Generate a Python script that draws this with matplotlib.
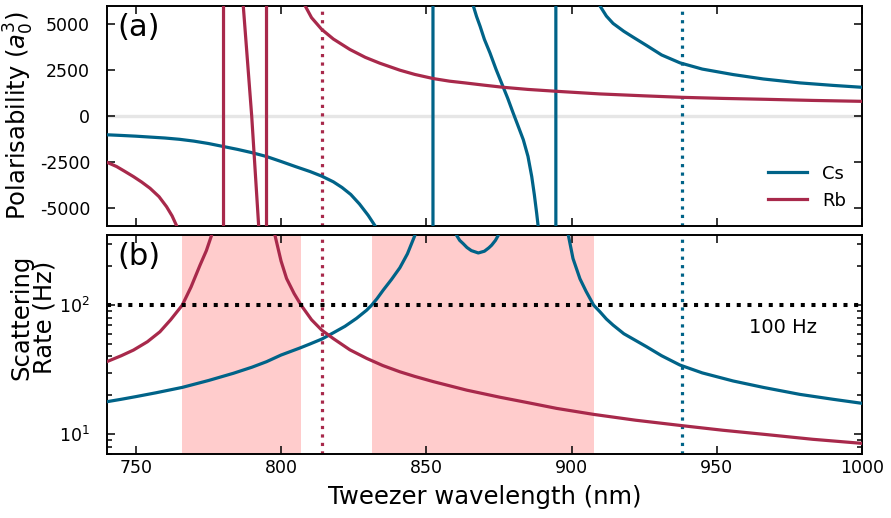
import matplotlib
matplotlib.use("Agg")
import matplotlib.pyplot as plt
from matplotlib.ticker import LogLocator, NullFormatter, FixedLocator

# --- colours -------------------------------------------------------------
cs_color = "#006388"
rb_color = "#a8294b"
shade_color = "#ffcccc"

# --- ground-state polarisability (a0^3) vs wavelength (nm) ---------------
# +/-1e6 entries mark the D-line resonances, where the curve diverges
cs_pol_wl = [740, 745, 750, 755, 760, 765, 770, 775, 780, 785,
             790, 795, 800, 805, 810, 814, 818, 821, 824, 827,
             830, 832.4,
             852.3, 852.3,
             866.2, 867.3, 868.5, 870.0, 871.9, 874.0, 876.5, 878.0, 879.9, 881.5,
             883.4, 885.0, 886.3, 887.2, 888.0, 888.5,
             894.6, 894.6,
             909.8, 912.0, 914.3, 918.0, 921.2, 925.8, 931.0, 937.3, 945.0, 955.6,
             966.0, 978.6, 990.0, 1000]
cs_pol = [-1024, -1060, -1100, -1150, -1200, -1270, -1370, -1500, -1660, -1820,
          -2000, -2210, -2480, -2760, -3030, -3280, -3590, -3900, -4280, -4800,
          -5420, -6000,
          -1e6, 1e6,
          6000, 5430, 4905, 4180, 3449, 2550, 1566, 980, 164, -500,
          -1297, -2200, -3306, -4300, -5310, -6005,
          -1e6, 1e6,
          6000, 5450, 5050, 4620, 4300, 3850, 3330, 2901, 2560, 2261,
          2020, 1806, 1670, 1566]

rb_pol_wl = [740, 743.4, 746, 749.2, 752, 754.9, 758, 760.6, 762.5, 764.1,
             780.2, 780.2,
             787.0, 789.9, 792.3,
             795.0, 795.0,
             808.2, 810.5, 814.0, 818.0, 823.7, 829.0, 834.0, 840.9, 846.0, 852.4,
             858.0, 863.3, 870.0, 876.5, 885.0, 894.9, 909.8, 925.0, 938.2, 952.0,
             967.1, 983.0, 1000]
rb_pol = [-2518, -2757, -3000, -3306, -3600, -3941, -4400, -4949, -5450, -6005,
          -1e6, 1e6,
          6000, 0, -6000,
          -1e6, 1e6,
          6038, 5364, 4724, 4200, 3629, 3200, 2880, 2500, 2270, 2042,
          1900, 1806, 1680, 1566, 1450, 1347, 1204, 1100, 1018, 960,
          910, 850, 800]

# --- photon scattering rate (Hz) vs wavelength (nm) -----------------------
cs_scat_wl = [740, 745, 750, 757, 766, 775, 783.6, 790, 795, 800,
              806.5, 810, 814, 818, 822, 826, 829.5, 831.2, 833, 835.2,
              838, 840.9, 843.5, 846.1,
              852.3, 853.0, 856.5,
              860.4, 861.5, 862.7, 864.0, 865.5, 867.9, 870.0, 871.5, 872.5, 873.8,
              874.8, 878.0, 885.0,
              894.6, 896.0,
              898.9, 900.5, 902.9, 905.0, 907.6, 909.8, 912.0, 914.3, 918.0, 925.8,
              931.0, 937.3, 945.0, 955.6, 966.0, 978.6, 990.0, 1000]
cs_scat = [17.8, 18.6, 19.5, 20.9, 23.0, 26.0, 29.6, 33.0, 36.4, 41.0,
           46.5, 50.0, 54.5, 61.0, 68.5, 79.0, 91.5, 100, 112, 131,
           158, 195, 250, 349,
           1e5, 1e4, 1000,
           349, 318, 300, 280, 265, 254, 262, 278, 292, 318,
           349, 1000, 1e4,
           1e5, 1500,
           349, 230, 160, 128, 100, 88.7, 78.0, 70.0, 60.0, 47.6,
           40.5, 34.3, 29.8, 25.8, 23.0, 20.3, 18.6, 17.3]

rb_scat_wl = [740, 745, 749.2, 754, 758.3, 762, 766, 769, 772.1, 774.3,
              776.1,
              780.2, 787.5, 795.0,
              797.9, 800, 801.9, 804.5, 806.9, 810.5, 814, 818, 823.7, 829.5,
              835, 840.9, 846, 852.4, 863.9, 875.3, 885, 894.9, 907.6, 922,
              938.2, 952, 967.1, 983, 1000]
rb_scat = [36.4, 40.5, 44.8, 52.0, 62.1, 77.0, 100, 138, 204, 265,
           349,
           1e5, 2000, 1e5,
           349, 220, 161, 123, 100, 77.0, 64.0, 55.0, 45.0, 38.6,
           34.0, 30.4, 28.0, 25.5, 21.9, 19.3, 17.5, 15.8, 14.2, 12.8,
           11.6, 10.7, 9.9, 9.1, 8.46]

# wavelength windows where either species scatters above 100 Hz
high_scatter_bands = [(766.0, 806.9), (831.2, 907.6)]
scatter_limit = 100

# tweezer wavelengths used for each species
rb_tweezer = 814
cs_tweezer = 938

x_ticks = [750, 800, 850, 900, 950, 1000]
pol_ticks = [-5000, -2500, 0, 2500, 5000]

plt.rcParams["axes.unicode_minus"] = False
plt.rcParams["font.family"] = "DejaVu Sans"

fig = plt.figure(figsize=(8.91, 5.18), dpi=100)
ax1 = fig.add_axes([0.1198, 0.5637, 0.8477, 0.4247])
ax2 = fig.add_axes([0.1198, 0.1236, 0.8477, 0.4227], sharex=ax1)

lw = 2.3
label_size = 17.5
tick_size = 12.5

# ---- (a) polarisability ----
ax1.axhline(0, color="#e6e6e6", lw=2.4, zorder=1)
ax1.plot(cs_pol_wl, cs_pol, color=cs_color, lw=lw, label="Cs", zorder=3)
ax1.plot(rb_pol_wl, rb_pol, color=rb_color, lw=lw, label="Rb", zorder=3)
ax1.axvline(rb_tweezer, color=rb_color, ls=":", lw=2.3, zorder=2)
ax1.axvline(cs_tweezer, color=cs_color, ls=":", lw=2.3, zorder=2)
ax1.set_ylim(-6000, 6000)
ax1.yaxis.set_major_locator(FixedLocator(pol_ticks))
ax1.set_ylabel("Polarisability ($a_0^3$)", fontsize=label_size)
ax1.yaxis.set_label_coords(-0.093, 0.5)
ax1.text(0.014, 0.97, "(a)", transform=ax1.transAxes, fontsize=22,
         va="top", ha="left")
ax1.legend(loc="lower right", frameon=False, fontsize=13,
           handlelength=2.2, bbox_to_anchor=(1.0, 0.0))
plt.setp(ax1.get_xticklabels(), visible=False)

# ---- (b) scattering rate ----
for lo, hi in high_scatter_bands:
    ax2.axvspan(lo, hi, color=shade_color, lw=0, zorder=0)
ax2.plot(cs_scat_wl, cs_scat, color=cs_color, lw=lw, zorder=3)
ax2.plot(rb_scat_wl, rb_scat, color=rb_color, lw=lw, zorder=3)
ax2.axhline(scatter_limit, color="black", ls=":", lw=2.9, zorder=4)
ax2.axvline(rb_tweezer, color=rb_color, ls=":", lw=2.3, zorder=2)
ax2.axvline(cs_tweezer, color=cs_color, ls=":", lw=2.3, zorder=2)
ax2.set_yscale("log")
ax2.set_ylim(7.0, 350)
ax2.yaxis.set_major_locator(LogLocator(base=10, numticks=10))
ax2.yaxis.set_minor_locator(LogLocator(base=10, subs=range(2, 10), numticks=10))
ax2.yaxis.set_minor_formatter(NullFormatter())
ax2.text(972.7, 67, f"{scatter_limit} Hz", fontsize=14, ha="center", va="center")
ax2.set_ylabel("Scattering\nRate (Hz)", fontsize=label_size, linespacing=0.95)
ax2.yaxis.set_label_coords(-0.066, 0.625)
ax2.text(0.014, 0.97, "(b)", transform=ax2.transAxes, fontsize=22,
         va="top", ha="left")

ax2.set_xlim(740, 1000)
ax2.xaxis.set_major_locator(FixedLocator(x_ticks))
ax2.set_xlabel("Tweezer wavelength (nm)", fontsize=label_size, labelpad=6)

for ax in (ax1, ax2):
    ax.tick_params(which="both", direction="in", top=True, right=True,
                   labelsize=tick_size, width=1.1)
    ax.tick_params(which="major", length=6)
    ax.tick_params(which="minor", length=3.5)
    ax.tick_params(axis="y", which="major", pad=12)
    for s in ax.spines.values():
        s.set_linewidth(1.4)

fig.savefig("out.png", dpi=100)
